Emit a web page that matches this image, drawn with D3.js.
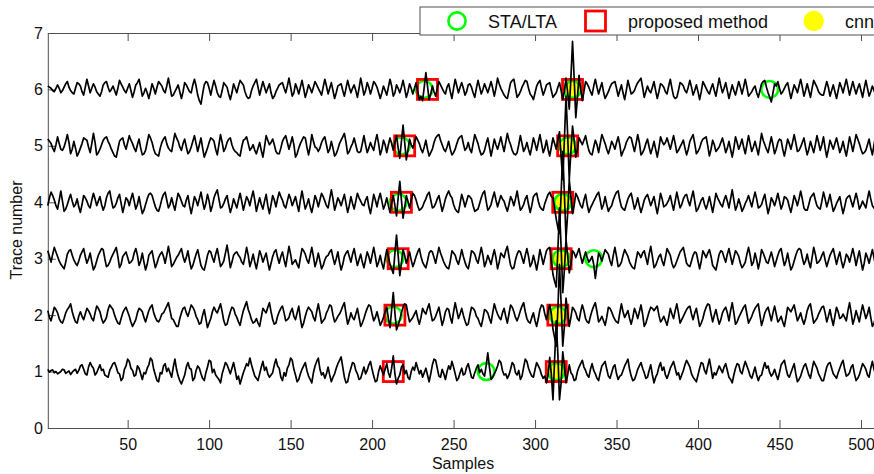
<!DOCTYPE html>
<html>
<head>
<meta charset="utf-8">
<script src="https://cdn.jsdelivr.net/npm/d3@7"></script>
<style>
  html, body { margin: 0; padding: 0; background: #fff; overflow: hidden; }
  text { font-family: "Liberation Sans", Arial, Helvetica, sans-serif; fill: #111; }
</style>
</head>
<body>
<svg id="chart" width="874" height="474"></svg>
<script>
// Seismic traces, one amplitude per sample (sample 1 onward),
// in hundredths of the spacing between traces.
const trace1 = [
  4,-1,2,3,-2,0,-4,-2,0,4,3,-3,-1,1,-5,-1,2,4,-3,2,10,12,4,-4,-6,8,16,10,6,-6,-2,5,
  12,2,4,-6,-8,-10,2,8,14,16,8,-2,-4,-16,-12,4,10,22,18,6,2,-8,-6,10,6,-4,-14,-2,-4,6,12,24,
  20,4,-6,-16,-18,-2,-4,10,14,0,6,-2,-10,8,22,4,-8,-16,-22,-14,-6,8,16,6,4,-16,-12,2,10,6,-4,-12,
  -16,-2,8,20,18,-2,4,-6,-10,-14,-20,-4,6,16,12,4,-4,6,16,2,-14,-8,-22,-12,-2,6,14,10,24,12,2,-8,
  -12,-16,-4,8,18,2,8,-4,-10,-6,-2,12,22,10,6,-10,-16,-2,-8,6,12,24,20,4,-6,-18,-14,-4,4,10,16,2,
  -8,-14,-20,-2,10,18,24,4,-6,-2,-12,-4,8,-6,-18,-10,-4,6,14,20,26,8,-10,-20,-18,-4,6,16,14,2,-4,-14,
  -12,-2,8,-4,2,12,18,4,-8,-18,-16,0,10,2,-6,4,14,-2,-10,6,28,-4,-22,-12,-6,8,12,-4,2,-10,-14,0,
  8,2,16,6,-4,2,-10,-2,6,-6,-18,-4,12,22,20,6,-8,-10,4,-4,-14,0,10,4,18,8,-4,-16,-12,-2,6,-6,
  -4,8,14,2,-10,-12,-2,6,12,-2,4,-4,-8,10,33,8,-14,-10,-4,2,10,20,16,2,-6,-4,-12,-6,4,16,12,-2,
  -6,2,-14,-8,8,22,18,6,-2,-8,-10,4,16,10,4,-6,-12,-8,-20,-6,25,-5,-50,20,90,30,-50,-20,35,10,-20,-6,
  12,-2,-6,-16,-14,0,8,14,20,8,2,-6,-10,4,14,2,-4,-12,-16,-2,10,14,18,4,-8,-12,-2,8,12,-4,-14,-8,
  -6,2,10,16,22,4,-8,-16,-14,-6,4,10,16,6,-2,-12,-10,2,12,-6,-20,-10,-4,8,16,2,8,-6,-12,-4,6,12,
  18,6,-6,-2,-14,-6,2,12,20,14,8,-4,-10,-14,-18,-6,6,16,14,2,-4,10,22,6,-12,-2,-6,2,10,4,-2,8,
  14,2,-10,-14,-20,-6,6,14,12,0,-4,8,18,10,2,-8,-12,-2,8,-6,-16,-8,-6,6,16,6,10,-2,-8,-4,4,-6,
  -14,-2,12,16,20,6,-6,-10,-2,6,14,-4,-18,-14,-8,2,10,14,4,-6,-12,4,18,12,6,-4,-10,-16,-16,-4,8,14,
  16,6,-4,-8,-12,-2,6,14,20,4,-8,-6,-2,8,12,-4,-16,-12,-6,4,14,10,4,-6,-10,6,18,4,-6,-2,10,4
];
const trace2 = [
  8,-4,-10,2,14,10,4,-6,-12,-14,-6,4,10,14,20,6,-4,-12,-14,-2,6,-2,-8,2,12,8,2,-6,-10,4,16,12,
  6,-6,-14,-10,-4,10,18,14,10,0,-8,-14,-16,-6,4,10,14,6,-2,-12,-20,-14,-8,4,12,10,6,-4,-12,-2,8,14,
  18,4,-4,-10,-12,-6,2,4,10,16,22,8,-6,-8,-14,-20,-20,-6,4,12,14,4,-2,8,18,14,8,-2,-8,-16,-14,0,
  10,-6,-22,-14,-6,6,14,8,4,12,20,6,-10,-18,-16,-4,6,14,12,2,-4,-12,-18,-4,8,16,24,10,2,-8,-14,-12,
  -6,-14,-20,-4,12,8,4,14,22,6,-8,-16,-14,-2,6,12,16,4,-10,-8,-4,6,12,-2,-8,4,16,-6,-22,-14,-2,8,
  14,10,6,-4,-10,6,20,4,-14,-10,-6,4,10,18,16,0,-12,-8,-2,2,8,16,22,2,-16,-8,4,-4,-8,2,12,-4,
  -20,-14,-6,4,12,18,16,2,-10,-4,6,-6,-18,-12,-4,6,14,-6,-22,10,40,4,-26,-18,-8,4,14,20,18,2,-12,-8,
  -4,2,8,-6,-16,-4,12,6,2,12,20,4,-10,-8,-2,6,14,-2,-18,-8,6,12,10,-4,-14,6,22,8,-6,2,12,0,
  -10,-18,-16,0,14,12,8,-2,-6,-14,-20,-6,10,8,4,-6,-14,4,20,10,2,-4,-8,4,12,-2,-14,2,18,14,6,-4,
  -10,-2,8,16,22,6,-6,-12,-14,-4,4,-10,-20,-6,10,18,16,2,-8,6,18,2,-25,-40,-55,10,90,20,-55,-20,30,6,
  -20,-4,14,10,4,-6,-10,6,18,8,-6,-12,-14,-2,8,16,22,6,-12,-8,-2,-10,-18,-4,14,12,6,-2,-8,-12,-14,4,
  20,6,-4,2,8,-6,-16,-4,12,4,-6,6,18,2,-20,-14,-4,6,14,12,8,12,16,0,-12,-8,-2,-10,-18,-4,12,2,
  -6,8,20,4,-14,-8,-2,4,10,14,16,2,-8,4,12,-4,-20,-14,-6,6,14,20,18,2,-12,0,10,-4,-16,-8,4,10,
  14,4,-10,8,22,4,-16,-12,-4,2,8,14,18,2,-14,-8,-2,6,12,16,20,0,-18,-8,4,10,14,2,-10,4,16,2,
  -12,-8,-2,-12,-20,-4,14,10,6,12,18,4,-10,-4,4,-8,-16,-6,8,16,20,2,-14,-10,-6,2,8,14,16,4,-12,-2,
  10,-6,-18,-2,14,6,-6,-4,2,-4,-10,8,22,4,-16,-6,8,-2,-12,4,18,6,-6,2,14,-4,-20,-14,-4,4,10,6
];
const trace3 = [
  14,4,-6,8,20,12,4,-4,-10,-14,-18,-6,8,14,16,6,-2,-8,-12,-4,6,12,18,4,-8,0,10,-6,-20,-14,-4,6,
  12,18,16,0,-14,-12,-6,2,8,14,20,4,-16,-10,4,8,12,2,-8,-6,-2,10,18,6,-12,-4,10,-6,-20,-10,6,10,
  14,-2,-16,-8,2,8,12,4,-8,6,22,6,-14,-10,-4,2,6,12,18,4,-6,2,14,-4,-18,-12,-2,8,16,2,-12,-18,
  -20,-8,6,14,12,2,-6,8,18,2,-14,-10,-4,10,24,6,-16,-6,6,10,12,6,2,-6,-10,4,20,6,-14,-4,8,-6,
  -18,-2,14,6,-6,2,10,-6,-20,-8,4,12,16,2,-8,4,12,-2,-14,4,22,8,-10,-6,-2,-10,-16,2,18,14,8,-2,
  -8,6,20,4,-14,-4,10,-4,-18,-12,-2,4,6,12,16,2,-10,0,12,-6,-20,-10,4,10,14,4,-6,8,18,2,-12,-2,
  8,-6,-16,-2,12,4,-8,6,20,4,-14,-6,6,-8,-18,0,16,4,-10,-18,-26,10,42,6,-30,-8,16,6,-8,2,12,-2,
  -14,-6,4,12,18,4,-6,-12,-16,-4,10,14,12,2,-8,6,20,10,2,-6,-12,-16,-18,-4,14,10,6,-4,-10,2,16,4,
  -6,-14,-18,-4,14,12,8,-2,-8,6,20,6,-14,-6,6,-2,-10,4,16,2,-18,-6,10,6,2,14,22,4,-12,-18,-16,-2,
  8,14,12,2,-8,6,18,4,-14,-8,6,-6,-20,-4,16,4,-10,2,14,18,20,-4,-28,-40,-50,15,90,20,-60,-20,35,6,
  -25,-10,14,10,2,10,18,4,-8,2,12,2,-6,-2,4,-10,-35,-12,10,4,-4,6,16,12,8,-4,-12,6,20,4,-14,-12,
  -6,6,16,10,4,-6,-12,-16,-18,-2,12,8,2,10,14,2,-10,8,22,4,-16,-12,-4,4,8,-4,-12,2,18,12,6,-8,
  -16,-12,-4,4,12,16,20,6,-8,-12,-14,-4,6,12,10,-4,-18,-4,14,8,2,10,16,4,-12,-16,-20,-6,8,14,12,2,
  -6,8,18,4,-10,2,14,10,4,-8,-16,-12,-6,8,20,6,-12,-6,10,-2,-18,-4,16,10,2,-6,-8,2,12,0,-14,-4,
  6,14,18,2,-12,-4,10,-6,-20,-14,-4,6,14,18,16,2,-10,-4,8,-6,-16,2,20,8,-8,-6,-2,6,12,-2,-14,-4,
  6,12,18,4,-10,2,12,-4,-16,-6,8,4,-6,6,18,4,-12,2,14,-4,-20,-8,10,2,-8,4,16,2,-14,-6,6,4
];
const trace4 = [
  -6,8,18,12,4,-6,-12,4,20,2,-16,-12,-4,6,14,2,-8,-4,6,-8,-18,-4,12,8,2,-6,-10,4,16,6,-6,2,
  10,-4,-14,-6,8,16,20,4,-10,-8,-2,8,14,-2,-18,-6,8,4,-6,6,16,2,-12,-4,10,-6,-20,-14,-4,6,14,16,
  12,2,-8,-14,-16,-6,6,14,18,4,-10,-4,8,-4,-14,2,16,10,2,-6,-8,4,12,-6,-20,-6,10,4,-6,6,18,2,
  -12,-2,14,2,-16,-6,8,16,22,6,-10,-8,-2,6,12,-4,-18,-8,6,-2,-10,4,16,2,-14,-2,10,4,-6,8,20,4,
  -16,-4,8,-4,-12,2,14,-6,-20,-4,12,4,-8,6,18,10,4,-6,-10,2,14,6,-6,2,10,-4,-16,4,20,4,-12,-4,
  6,-8,-18,-4,12,4,-8,4,16,10,2,-6,-10,6,22,6,-14,-4,8,2,-6,4,14,-2,-18,-6,10,-2,-12,2,16,8,
  2,-4,-6,4,10,-8,-20,-4,14,4,-8,6,16,2,-12,-4,8,-6,-18,-2,12,-6,-24,8,37,4,-28,-10,12,2,-10,4,
  16,12,4,-6,-14,-12,-8,0,6,14,18,4,-10,-8,-2,6,12,-2,-16,-6,6,14,20,12,8,-4,-12,-16,-18,-2,14,4,
  -8,2,12,10,6,-6,-16,-14,-12,-2,8,16,20,2,-14,-10,-4,8,18,4,-8,2,12,6,2,-8,-16,-4,10,4,-6,6,
  20,2,-14,-10,-4,6,12,-4,-18,-6,10,14,16,2,-8,-12,-14,-2,6,14,18,10,8,-10,-30,-45,-55,15,90,15,-65,-20,
  40,10,-20,-6,16,10,2,-6,-10,4,14,-4,-18,-10,-4,2,8,14,18,4,-12,-4,10,-4,-16,-10,-6,4,12,18,20,4,
  -8,-12,-14,-4,6,12,16,2,-12,-4,8,-6,-18,-8,4,10,14,4,-6,2,10,-6,-20,-4,16,6,-8,-6,-2,4,12,-2,
  -14,2,18,4,-10,-4,6,12,14,2,-6,8,20,2,-16,-12,-4,4,8,-4,-12,-2,10,-4,-18,-2,16,8,2,-4,-8,4,
  12,2,-10,6,22,4,-14,-6,6,-4,-16,-10,-2,4,12,2,-8,6,18,6,-10,-8,-4,6,14,-4,-20,-8,8,2,-6,4,
  16,2,-12,-4,10,8,4,-8,-18,-4,12,4,-6,6,20,6,-10,-14,-14,-4,8,12,16,4,-6,-10,-12,2,18,6,-8,2,
  14,-2,-16,-10,-2,4,10,-6,-20,-8,6,10,12,2,-8,4,16,4,-12,-6,2,-4,-10,6,20,6,-6,-10,-14,-4,8,4
];
const trace5 = [
  12,8,4,-4,-10,2,16,4,-6,-8,-2,8,20,6,-14,-6,8,-4,-18,-12,-4,4,14,12,10,-2,-12,4,22,6,-16,-12,
  -6,2,10,14,16,8,2,-6,-12,-18,-20,-6,8,12,14,2,-6,6,18,10,4,-4,-10,2,12,-4,-16,-14,-8,6,20,14,
  6,-6,-14,-16,-18,-4,6,12,16,4,-4,-8,-10,6,22,14,8,-2,-8,4,12,-2,-14,-10,-2,8,18,4,-10,2,14,-4,
  -20,-12,-4,6,14,12,8,-6,-16,2,20,6,-10,-4,6,12,14,2,-6,-10,-12,-16,-18,-2,10,12,16,4,-8,-4,2,-8,
  -14,-4,6,-8,-20,-2,18,10,2,6,12,2,-10,-14,-14,-4,8,14,18,6,-6,4,16,2,-20,-14,-4,4,10,16,14,-2,
  -16,-2,20,8,-2,-4,-10,-4,6,12,16,2,-12,-6,8,-4,-18,-14,-6,4,10,16,22,6,-14,-10,-2,4,14,2,-10,-12,
  -10,4,18,2,-12,-4,6,-2,-8,8,20,4,-16,-6,10,2,-12,2,14,4,-8,6,18,-4,-22,8,37,6,-25,-8,12,2,
  -4,6,16,10,4,-6,-12,-2,10,-6,-18,-12,-6,6,14,18,20,10,2,-6,-10,-2,8,-6,-16,-12,-6,4,12,16,18,4,
  -8,-4,6,-6,-12,4,20,12,4,-8,-16,-14,-8,4,14,-2,-18,-4,12,2,-6,4,16,2,-10,6,22,10,2,-8,-14,-16,
  -12,2,18,4,-10,-4,6,-6,-16,-2,14,4,-8,6,20,4,-12,-4,10,-6,-18,-2,14,4,-6,10,25,-20,-60,10,88,20,
  -60,-10,35,10,-20,-6,14,8,2,10,18,4,-8,-14,-16,-2,10,2,-12,4,20,12,4,-6,-14,-4,8,2,-6,6,16,2,
  -18,-10,-4,6,12,16,14,2,-10,4,20,6,-16,-12,-6,4,12,-2,-14,-4,8,-6,-20,-4,16,8,2,6,14,4,-6,6,
  18,4,-12,-8,-2,4,10,-4,-16,-6,8,14,20,4,-14,-10,-4,6,12,14,16,0,-18,-6,10,2,-10,-6,-2,6,14,2,
  -12,-4,8,-6,-20,-4,16,6,-6,2,12,-2,-14,2,18,4,-10,-2,8,-4,-16,2,22,10,2,-6,-12,2,16,2,-14,-6,
  6,12,10,-6,-18,-4,12,4,-6,6,20,6,-10,-8,-2,6,14,-2,-16,-6,8,-2,-12,2,18,6,-8,2,16,-4,-20,-6,
  10,2,-6,4,14,2,-12,-4,8,-6,-18,-2,16,4,-10,4,20,12,4,-6,-14,-12,-8,2,12,-4,-16,2,18,4,-10,-4
];
const trace6 = [
  6,4,2,-2,-4,2,8,2,-6,-2,4,10,14,4,-2,-6,-8,2,12,10,6,-4,-10,4,18,6,-6,2,10,4,-4,-8,
  -12,-4,8,12,14,4,-4,0,6,-2,-10,2,16,10,4,-2,-6,2,10,-2,-14,-4,8,12,18,4,-12,-6,2,-6,-16,-4,
  10,2,-8,4,14,10,6,-2,-6,6,20,4,-12,-10,-4,2,8,-4,-16,-4,12,8,2,-4,-6,8,18,6,-10,-20,-26,-8,
  8,14,12,2,-10,4,16,6,-6,-12,-14,-2,12,8,4,-8,-18,-6,10,2,-6,6,16,12,8,-4,-12,-16,-14,-2,6,12,
  18,4,-10,2,14,4,-6,2,10,-6,-16,-12,-4,2,8,10,12,2,-6,6,20,4,-12,-6,10,2,-8,4,16,2,-14,-4,
  8,2,-6,4,14,8,2,-4,-10,4,18,6,-8,2,12,-2,-16,-6,6,8,10,-2,-12,2,16,4,-6,2,8,-2,-14,2,
  20,6,-10,-2,12,4,-8,2,14,10,4,-6,-16,-6,6,-2,-10,4,18,6,-12,-6,8,2,-6,4,16,2,-14,-4,10,2,
  -8,2,12,-4,-18,-12,-20,4,30,6,-18,-8,6,-4,-12,2,14,8,2,-4,-8,4,10,-4,-16,2,18,6,-6,4,12,2,
  -10,-4,8,10,4,-6,-14,2,16,4,-8,0,10,2,-6,4,14,2,-12,2,20,10,2,-4,-10,-14,-16,-2,12,16,18,2,
  -14,-10,-4,4,10,16,14,2,-8,-12,-18,-6,6,12,16,2,-10,-2,8,10,12,-2,-14,-10,-6,4,12,-2,-18,-4,20,-5,
  -35,20,85,20,-50,-15,25,0,-20,-4,14,10,4,-4,-10,6,18,4,-8,2,12,-4,-16,-10,-4,4,10,12,14,2,-12,-2,
  8,-6,-18,-2,16,4,-8,-6,-2,6,12,16,20,4,-14,-4,6,-2,-6,4,14,-2,-16,-4,10,8,4,-4,-8,6,18,2,
  -12,-16,-14,-2,12,10,6,-2,-6,4,16,4,-10,-2,8,-4,-18,-4,14,8,2,-4,-8,2,10,-2,-12,4,20,6,-6,2,
  12,-2,-16,-4,8,-2,-10,2,14,4,-8,4,18,4,-12,-8,-4,2,6,-6,-14,-2,10,14,16,4,-6,-14,-22,-6,10,6,
  14,2,-8,-4,2,8,12,-2,-16,-4,8,2,-6,6,18,4,-12,-2,10,-2,-14,2,16,10,4,-4,-8,-10,-10,2,14,4,
  -12,-2,8,-4,-16,-2,12,4,-6,6,18,4,-10,2,14,2,-8,2,10,-2,-14,2,16,2,-12,-4,6,-2,-8,2,12,6
];
const traceData = [trace1, trace2, trace3, trace4, trace5, trace6];
const traceNumbers = [1, 2, 3, 4, 5, 6];

// Arrival picks (sample numbers) for each trace, by method
const staltaPicks   = [[270, 313], [213, 314], [214, 316, 336], [216, 317], [218, 320], [232, 323, 444]];
const proposedPicks = [[213, 313], [214, 314], [216, 316], [218, 317], [220, 320], [234, 323]];
const cnnPicks      = [[313], [314], [316], [317], [320], [323]];

const xTicks = [50, 100, 150, 200, 250, 300, 350, 400, 450, 500];
const yTicks = [0, 1, 2, 3, 4, 5, 6, 7];
const legendLabels = ["STA/LTA", "proposed method", "cnn"];

const svg = d3.select("#chart");
const plotLeft = 47.8, plotTop = 33, plotBottom = 428;
const x = d3.scaleLinear().domain([1, 512]).range([plotLeft, plotLeft + 511 * 1.6296]);
const y = d3.scaleLinear().domain([0, 7]).range([plotBottom, plotTop]);
const axisColor = "#505050";

// Axes (ticks pointing inward)
const gx = svg.append("g").attr("transform", `translate(0,${plotBottom})`)
  .call(d3.axisBottom(x).tickValues(xTicks).tickSizeInner(-8).tickSizeOuter(0).tickPadding(11));
const gxTop = svg.append("g").attr("transform", `translate(0,${plotTop})`)
  .call(d3.axisTop(x).tickValues(xTicks).tickSizeInner(-8).tickSizeOuter(0).tickFormat(""));
const gy = svg.append("g").attr("transform", `translate(${plotLeft},0)`)
  .call(d3.axisLeft(y).tickValues(yTicks).tickFormat(d3.format("d"))
    .tickSizeInner(-8).tickSizeOuter(0).tickPadding(5));
[gx, gxTop, gy].forEach(g => {
  g.select(".domain").attr("stroke", axisColor);
  g.selectAll(".tick line").attr("stroke", axisColor);
  g.selectAll(".tick text").attr("font-size", 16).attr("fill", "#111")
    .attr("font-family", '"Liberation Sans", Arial, sans-serif');
});

svg.append("text").attr("x", 463).attr("y", 469).attr("text-anchor", "middle")
  .attr("font-size", 16).text("Samples");
svg.append("text").attr("transform", "translate(22,230) rotate(-90)")
  .attr("text-anchor", "middle").attr("font-size", 16).text("Trace number");

// Pick markers
const picksFlat = (arr) => arr.flatMap((ps, i) => ps.map(s => ({ s, t: traceNumbers[i] })));
const markers = svg.append("g");
markers.selectAll("circle.cnn").data(picksFlat(cnnPicks)).join("circle")
  .attr("class", "cnn").attr("cx", d => x(d.s)).attr("cy", d => y(d.t)).attr("r", 9.5)
  .attr("fill", "#ffff00");
markers.selectAll("circle.stalta").data(picksFlat(staltaPicks)).join("circle")
  .attr("class", "stalta").attr("cx", d => x(d.s)).attr("cy", d => y(d.t)).attr("r", 8.4)
  .attr("fill", "none").attr("stroke", "#00ff00").attr("stroke-width", 2.6);
markers.selectAll("rect.proposed").data(picksFlat(proposedPicks)).join("rect")
  .attr("class", "proposed").attr("x", d => x(d.s) - 10).attr("y", d => y(d.t) - 10)
  .attr("width", 20).attr("height", 20)
  .attr("fill", "none").attr("stroke", "#ff0000").attr("stroke-width", 2.8);

// Traces
const line = d3.line().x(d => x(d[0])).y(d => y(d[1]));
svg.append("g").selectAll("path").data(traceData).join("path")
  .attr("d", (vals, i) => line(vals.map((v, k) => [1 + k, traceNumbers[i] + v / 100])))
  .attr("fill", "none").attr("stroke", "#000").attr("stroke-width", 1.7)
  .attr("stroke-linejoin", "round");

// Legend
const lg = svg.append("g");
lg.append("rect").attr("x", 420).attr("y", 7).attr("width", 480).attr("height", 28)
  .attr("fill", "#fff").attr("stroke", axisColor);
lg.append("circle").attr("cx", 457).attr("cy", 21).attr("r", 8.6)
  .attr("fill", "none").attr("stroke", "#00ff00").attr("stroke-width", 2.6);
lg.append("rect").attr("x", 585.5).attr("y", 11).attr("width", 20).attr("height", 20)
  .attr("fill", "none").attr("stroke", "#ff0000").attr("stroke-width", 2.8);
lg.append("circle").attr("cx", 813.7).attr("cy", 21).attr("r", 10.2).attr("fill", "#ffff00");
const legendX = [488, 628, 845];
legendLabels.forEach((t, i) => {
  lg.append("text").attr("x", legendX[i]).attr("y", 28).attr("font-size", 18).text(t);
});
</script>
</body>
</html>
